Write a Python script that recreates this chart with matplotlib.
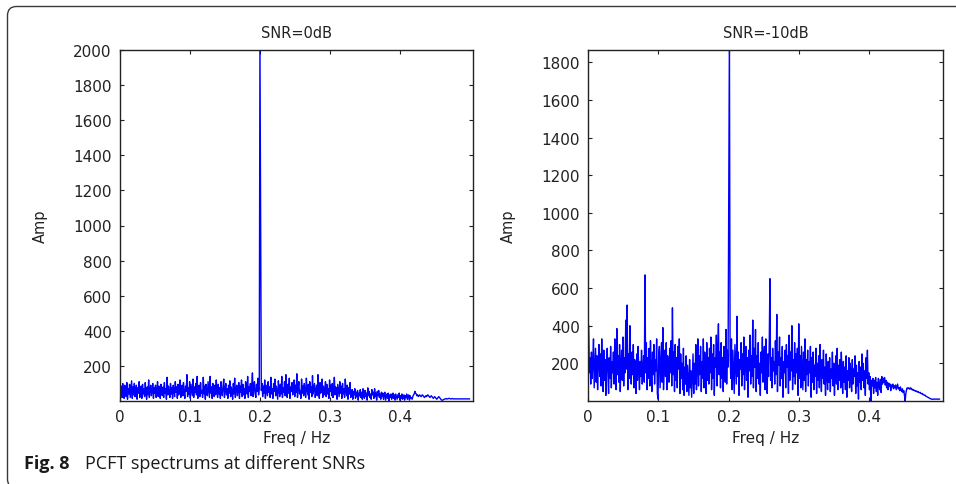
import matplotlib
matplotlib.use("Agg")
import matplotlib.pyplot as plt
import numpy as np
from matplotlib.patches import FancyBboxPatch
from matplotlib.transforms import IdentityTransform

# ---------------------------------------------------------------------------
# Spectrum amplitudes, one value per bin (bin width = 1/1024 Hz, 0 ... 0.5 Hz)
# 16 bins per row
# ---------------------------------------------------------------------------
DF = 1 / 1024

amp_0db = [
    110, 30, 85, 20, 100, 45, 15, 90, 60, 25, 105, 10, 70, 40, 95, 20,
    65, 115, 15, 80, 35, 100, 25, 55, 90, 10, 75, 45, 110, 20, 60, 85,
    15, 95, 40, 70, 25, 105, 50, 10, 80, 35, 120, 20, 65, 90, 30, 55,
    100, 15, 75, 45, 90, 20, 60, 110, 25, 85, 40, 15, 95, 55, 30, 80,
    20, 105, 45, 70, 10, 135, 35, 85, 55, 20, 100, 40, 75, 15, 90, 60,
    25, 110, 50, 80, 15, 95, 35, 70, 120, 20, 60, 90, 30, 105, 45, 15,
    85, 55, 150, 25, 75, 40, 110, 15, 95, 60, 30, 125, 20, 80, 50, 100,
    35, 140, 15, 70, 90, 25, 105, 45, 60, 20, 135, 40, 85, 10, 95, 55,
    30, 110, 65, 20, 140, 45, 80, 15, 100, 55, 25, 90, 35, 120, 60, 20,
    95, 40, 75, 15, 110, 50, 30, 85, 125, 20, 65, 100, 35, 70, 15, 90,
    45, 115, 25, 80, 55, 10, 100, 40, 130, 20, 70, 90, 30, 60, 105, 15,
    85, 50, 120, 25, 95, 35, 70, 15, 110, 60, 40, 140, 20, 80, 55, 100,
    30, 90, 160, 25, 75, 110, 40, 20, 95, 55, 130, 35, 70, 2060, 1020, 60,
    100, 25, 85, 45, 120, 15, 90, 60, 30, 110, 50, 80, 20, 135, 40, 70,
    15, 100, 55, 125, 30, 85, 45, 10, 115, 65, 25, 95, 40, 140, 20, 75,
    50, 110, 30, 150, 60, 20, 95, 45, 130, 15, 80, 55, 105, 35, 70, 120,
    25, 90, 50, 155, 20, 75, 110, 40, 60, 15, 125, 45, 85, 30, 100, 55,
    20, 130, 65, 35, 95, 10, 110, 50, 80, 25, 145, 40, 70, 100, 20, 60,
    90, 30, 150, 55, 15, 105, 45, 75, 125, 20, 85, 35, 60, 110, 25, 95,
    40, 70, 15, 120, 55, 90, 30, 100, 20, 65, 135, 35, 80, 50, 10, 95,
    60, 25, 110, 45, 85, 15, 100, 40, 70, 20, 125, 55, 30, 90, 10, 75,
    40, 105, 20, 30, 65, 10, 55, 35, 70, 15, 50, 25, 60, 5, 45, 30,
    65, 20, 50, 10, 70, 35, 15, 60, 25, 45, 5, 75, 30, 55, 20, 40,
    10, 65, 35, 50, 15, 70, 25, 45, 5, 55, 30, 60, 20, 40, 10, 50,
    25, 45, 10, 35, 50, 5, 30, 40, 15, 45, 0, 35, 20, 40, 10, 30,
    45, 15, 35, 5, 40, 25, 10, 35, 20, 45, 5, 30, 15, 40, 10, 25,
    35, 5, 30, 20, 40, 10, 25, 35, 5, 30, 15, 20, 10, 25, 35, 40,
    55, 45, 40, 30, 35, 25, 30, 35, 30, 25, 30, 35, 30, 25, 20, 25,
    30, 25, 30, 35, 30, 25, 20, 25, 30, 25, 20, 15, 20, 25, 20, 15,
    10, 15, 20, 25, 20, 15, 10, 5, 5, 5, 8, 10, 12, 12, 14, 12,
    12, 14, 15, 14, 12, 12, 13, 14, 12, 12, 12, 12, 12, 12, 12, 12,
    12, 12, 12, 12, 12, 12, 12, 12, 12, 12, 12, 12, 12, 12, 12, 12,
    12,
]

amp_m10db = [
    410, 400, 150, 230, 90, 260, 120, 200, 330, 70, 180, 280, 100, 240, 60, 210,
    300, 130, 250, 80, 330, 160, 50, 270, 110, 220, 30, 190, 280, 140, 40, 230,
    120, 290, 70, 210, 150, 260, 90, 330, 180, 60, 385, 140, 240, 100, 300, 50,
    200, 270, 110, 340, 80, 230, 150, 430, 170, 510, 60, 250, 120, 400, 190, 90,
    260, 140, 300, 70, 220, 180, 40, 250, 110, 290, 160, 60, 210, 130, 270, 90,
    180, 240, 100, 670, 150, 310, 60, 230, 120, 280, 80, 320, 170, 50, 260, 140,
    300, 90, 220, 160, 330, 40, 10, 250, 290, 70, 200, 310, 100, 390, 60, 180,
    270, 130, 310, 60, 240, 190, 100, 280, 150, 320, 80, 495, 140, 260, 50, 300,
    110, 230, 70, 290, 170, 330, 40, 250, 120, 200, 60, 280, 30, 180, 90, 240,
    50, 190, 110, 30, 220, 70, 160, 20, 130, 250, 40, 200, 90, 300, 60, 170,
    330, 80, 240, 140, 290, 50, 210, 120, 330, 70, 260, 170, 40, 310, 110, 230,
    90, 280, 150, 340, 60, 250, 120, 300, 30, 230, 180, 350, 80, 270, 410, 140,
    260, 70, 310, 120, 230, 50, 290, 160, 100, 380, 90, 270, 180, 1005, 1950, 230,
    120, 330, 60, 270, 150, 40, 300, 190, 90, 450, 130, 260, 30, 220, 170, 310,
    80, 250, 140, 340, 60, 210, 290, 110, 230, 20, 270, 160, 350, 90, 240, 130,
    430, 70, 280, 180, 380, 50, 240, 120, 310, 90, 200, 30, 260, 150, 340, 100,
    220, 290, 60, 330, 170, 40, 250, 130, 300, 650, 110, 230, 70, 280, 160, 210,
    90, 320, 140, 460, 50, 260, 190, 340, 80, 230, 120, 290, 20, 210, 150, 270,
    70, 300, 180, 240, 40, 350, 110, 260, 160, 400, 60, 220, 130, 310, 90, 250,
    150, 280, 30, 410, 120, 240, 70, 290, 180, 60, 260, 110, 330, 50, 220, 140,
    270, 80, 210, 150, 290, 20, 230, 100, 260, 60, 190, 130, 280, 40, 200, 110,
    240, 70, 300, 160, 50, 220, 120, 270, 90, 180, 30, 250, 140, 60, 210, 100,
    230, 50, 170, 120, 260, 80, 200, 30, 150, 240, 90, 280, 60, 190, 110, 220,
    70, 260, 130, 40, 210, 100, 180, 60, 240, 20, 160, 110, 230, 70, 200, 140,
    50, 220, 90, 170, 130, 240, 40, 190, 80, 150, 10, 210, 100, 180, 60, 250,
    110, 200, 70, 160, 30, 230, 120, 270, 90, 150, 60, 130, 0, 110, 80, 120,
    40, 110, 70, 125, 50, 100, 30, 120, 80, 60, 115, 45, 130, 90, 120, 100,
    125, 85, 110, 70, 100, 60, 95, 80, 90, 55, 85, 75, 90, 65, 80, 70,
    85, 60, 75, 90, 65, 70, 55, 75, 60, 50, 65, 45, 55, 30, 0, 40,
    60, 70, 65, 70, 68, 62, 70, 66, 60, 62, 56, 58, 54, 55, 50, 52,
    48, 50, 45, 44, 46, 40, 38, 40, 35, 33, 30, 31, 26, 24, 22, 20,
    18, 16, 14, 12, 10, 10, 9, 10, 10, 10, 10, 10, 10, 10, 10, 10,
    10,
]

titles = ["SNR=0dB", "SNR=-10dB"]
y_tops = [2000, 1865]
y_ticks = [list(range(200, 2001, 200)), list(range(200, 1801, 200))]
x_ticks = [0, 0.1, 0.2, 0.3, 0.4]
x_ticklabels = ["0", "0.1", "0.2", "0.3", "0.4"]

plt.rcParams["font.family"] = ["DejaVu Sans"]

W, H = 956, 485
fig = plt.figure(figsize=(W / 100, H / 100), dpi=100)

# rounded frame around the figure + caption (pixel coordinates)
frame = FancyBboxPatch(
    (7.5, -4), 1100, H - 7.5 + 4,
    boxstyle="round,pad=0,rounding_size=9",
    transform=IdentityTransform(), fill=False,
    edgecolor="#3a3a3a", linewidth=1.0, clip_on=False,
)
fig.add_artist(frame)

# axes boxes in pixels: (left, top, right, bottom)
boxes = [(120, 51, 473, 402), (588, 51, 943, 402)]

for box, amp, title, ytop, yt in zip(boxes, [amp_0db, amp_m10db], titles, y_tops, y_ticks):
    l, t, r, b = box
    ax = fig.add_axes([l / W, (H - b) / H, (r - l) / W, (b - t) / H])
    freq = np.arange(len(amp)) * DF
    ax.plot(freq, amp, color=(0, 0, 1), linewidth=1.0)
    ax.set_xlim(0, 0.505)
    ax.set_ylim(0, ytop)
    ax.set_xticks(x_ticks)
    ax.set_xticklabels(x_ticklabels)
    ax.set_yticks(yt)
    ax.tick_params(direction="in", length=3, width=0.8, top=True, right=True,
                   labelsize=11, colors="#222222", pad=6)
    for s in ax.spines.values():
        s.set_linewidth(1.0)
        s.set_color("#222222")
    ax.set_title(title, fontsize=10.5, color="#222222", pad=9)
    ax.set_xlabel("Freq / Hz", fontsize=11, color="#222222", labelpad=4)
    ax.set_ylabel("Amp", fontsize=10.5, color="#222222", labelpad=18)

# figure caption
fig.text(24 / W, 1 - 464 / H, "Fig. 8", fontsize=13, fontweight="bold",
         family=["Open Sans", "DejaVu Sans"], va="center", ha="left", color="#1a1a1a")
fig.text(85 / W, 1 - 464 / H, "PCFT spectrums at different SNRs", fontsize=13,
         family=["Open Sans", "DejaVu Sans"], va="center", ha="left", color="#1a1a1a")

fig.savefig("out.png", dpi=100)
